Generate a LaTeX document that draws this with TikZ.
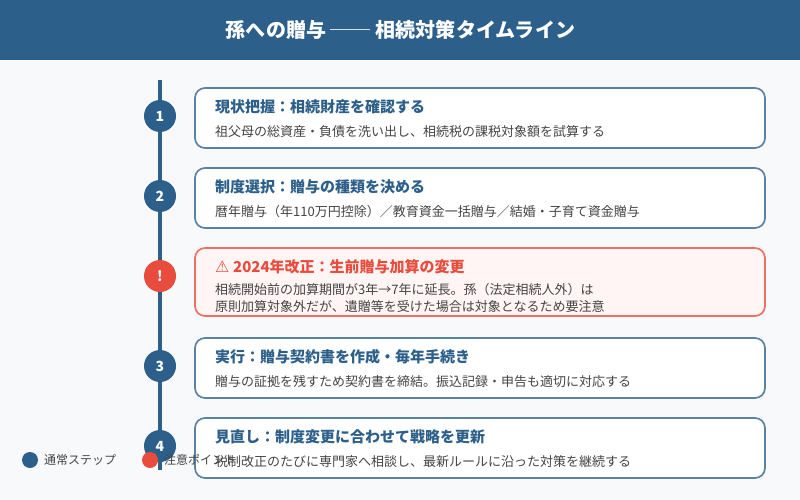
\documentclass[tikz,border=0pt]{standalone}
\usepackage{fontspec}
\setmainfont{Noto Sans CJK JP}
\newfontfamily\symfont{DejaVu Sans}
\usetikzlibrary{positioning}
\definecolor{navy}{HTML}{2C5F8A}
\definecolor{cardline}{HTML}{5A82A6}
\definecolor{alert}{HTML}{E74C3C}
\definecolor{alertline}{HTML}{EC7063}
\definecolor{alertbg}{HTML}{FFF5F5}
\definecolor{pagebg}{HTML}{F8F9FB}
\definecolor{bodytext}{HTML}{444444}
\tikzset{
    stepdot/.style={circle,fill=navy,minimum size=32pt,inner sep=0pt,text=white,font=\fontsize{14}{14}\selectfont\bfseries},
    alertdot/.style={stepdot,fill=alert},
    card/.style={draw=cardline,line width=1.7pt,rounded corners=10pt,fill=white,minimum width=570pt,inner sep=0pt,outer sep=0pt,anchor=north west},
    alertcard/.style={card,draw=alertline,fill=alertbg},
    cardhead/.style={anchor=west,inner sep=0pt,text=navy,font=\fontsize{15}{15}\selectfont\bfseries},
    alerthead/.style={cardhead,text=alert},
    carddesc/.style={anchor=west,inner sep=0pt,text=bodytext,font=\fontsize{13}{13}\selectfont},
    legenddot/.style={circle,minimum size=16pt,inner sep=0pt},
    legendtext/.style={anchor=west,inner sep=0pt,text=bodytext,font=\fontsize{12}{12}\selectfont},
}
\begin{document}
\begin{tikzpicture}[x=1pt,y=-1pt]

    \useasboundingbox (0,0) rectangle (800,500);
    \fill[pagebg] (0,0) rectangle (800,500);
    \fill[navy] (0,0) rectangle (800,60);
    \node[text=white,font=\fontsize{20}{20}\selectfont\bfseries\addfontfeature{LetterSpace=0.5}] (title) at (400.5,30) {孫への贈与 ── 相続対策タイムライン};

    \coordinate (top) at (160,80);
    \coordinate (bottom) at (160,470);
    \draw[navy,line width=4pt] (top) -- (bottom);

    \node[stepdot]  (s1) at (160,116) {1};
    \node[stepdot]  (s2) at (160,196) {2};
    \node[alertdot] (s0) at (160,276) {!};
    \node[stepdot]  (s3) at (160,366) {3};
    \node[stepdot]  (s4) at (160,446) {4};

    \node[card,minimum height=60pt]      (c1) at (195,88)  {};
    \node[card,minimum height=60pt]      (c2) at (195,168) {};
    \node[alertcard,minimum height=68pt] (c0) at (195,248) {};
    \node[card,minimum height=60pt]      (c3) at (195,338) {};
    \node[card,minimum height=60pt]      (c4) at (195,418) {};

    \node[cardhead] (h1) at (215,107) {現状把握：相続財産を確認する};
    \node[carddesc] (d1) at (215,132) {祖父母の総資産・負債を洗い出し、相続税の課税対象額を試算する};
    \node[cardhead] (h2) at (215,187) {制度選択：贈与の種類を決める};
    \node[carddesc] (d2) at (215,212) {暦年贈与（年110万円控除）／教育資金一括贈与／結婚・子育て資金贈与};
    \node[alerthead] (h0) at (215,267) {\makebox[18pt][l]{\symfont\fontsize{16}{16}\selectfont ⚠}2024年改正：生前贈与加算の変更};
    \node[carddesc] (d0) at (215,289.5) {相続開始前の加算期間が3年→7年に延長。孫（法定相続人外）は};
    \node[carddesc] (e0) at (215,306.5) {原則加算対象外だが、遺贈等を受けた場合は対象となるため要注意};
    \node[cardhead] (h3) at (215,357) {実行：贈与契約書を作成・毎年手続き};
    \node[carddesc] (d3) at (215,382) {贈与の証拠を残すため契約書を締結。振込記録・申告も適切に対応する};
    \node[cardhead] (h4) at (215,437) {見直し：制度変更に合わせて戦略を更新};
    \node[carddesc] (d4) at (215,462) {税制改正のたびに専門家へ相談し、最新ルールに沿った対策を継続する};

    \node[legenddot,fill=navy]  (l1) at (30,460)  {};
    \node[legendtext] (t1) at (44,460)  {通常ステップ};
    \node[legenddot,fill=alert] (l2) at (150,460) {};
    \node[legendtext] (t2) at (164,460) {注意ポイント};

\end{tikzpicture}
\end{document}
